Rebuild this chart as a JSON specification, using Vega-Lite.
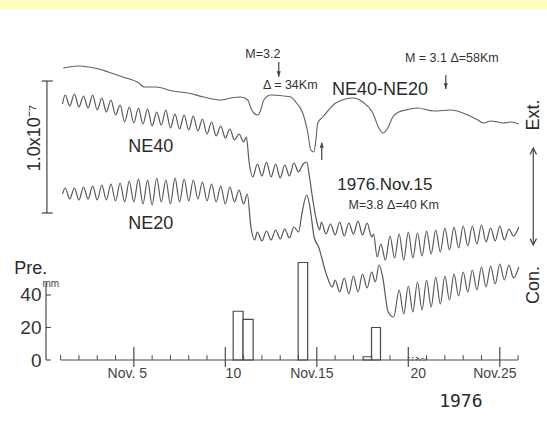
{
  "$schema": "https://vega.github.io/schema/vega-lite/v6.json",
  "width": 473,
  "height": 320,
  "autosize": "none",
  "padding": {"left": 46, "top": 40, "right": 28, "bottom": 61},
  "background": "white",
  "config": {"view": {"stroke": null}},
  "datasets": {
    "ne40": [[1.10,258],[1.25,267],[1.50,256],[1.75,268],[2.00,255],[2.25,266],[2.50,254],[2.75,267],[3.00,252],[3.25,264],[3.50,250],[3.75,262],[4.00,247],[4.25,257],[4.50,240],[4.75,255],[5.00,239],[5.25,254],[5.50,238],[5.75,253],[6.00,236],[6.25,250],[6.50,237],[6.75,252],[7.00,234],[7.25,248],[7.50,233],[7.75,247],[8.00,232],[8.25,246],[8.50,231],[8.75,243],[9.00,228],[9.25,240],[9.50,226],[9.75,236],[10.00,224],[10.25,233],[10.50,222],[10.75,228],[11.00,220],[11.15,225],[11.30,200],[11.50,185],[11.75,198],[12.00,186],[12.25,200],[12.50,185],[12.75,198],[13.00,184],[13.25,197],[13.50,186],[13.75,199],[14.00,190],[14.25,198],[14.45,200],[14.60,185],[14.80,160],[15.00,140],[15.15,132],[15.25,140],[15.50,128],[15.75,138],[16.00,127],[16.25,140],[16.50,126],[16.75,139],[17.00,128],[17.25,141],[17.50,127],[17.75,139],[18.00,125],[18.10,128],[18.30,105],[18.50,118],[18.75,102],[19.00,126],[19.25,104],[19.50,128],[19.75,102],[20.00,130],[20.25,104],[20.50,129],[20.75,106],[21.00,131],[21.25,108],[21.50,132],[21.75,110],[22.00,134],[22.25,112],[22.50,135],[22.75,114],[23.00,136],[23.25,116],[23.50,136],[23.75,118],[24.00,137],[24.25,120],[24.50,134],[24.75,121],[25.00,136],[25.25,122],[25.50,133],[25.75,126],[26.04,135]],
    "ne20": [[1.10,168],[1.25,174],[1.50,163],[1.75,174],[2.00,162],[2.25,175],[2.50,163],[2.75,176],[3.00,162],[3.25,177],[3.50,162],[3.75,178],[4.00,161],[4.25,179],[4.50,160],[4.75,181],[5.00,160],[5.25,183],[5.50,158],[5.75,182],[6.00,157],[6.25,184],[6.50,160],[6.75,182],[7.00,158],[7.25,184],[7.50,160],[7.75,183],[8.00,161],[8.25,182],[8.50,163],[8.75,180],[9.00,161],[9.25,178],[9.50,160],[9.75,176],[10.00,158],[10.25,175],[10.50,160],[10.75,172],[11.00,158],[11.20,168],[11.40,135],[11.60,122],[11.75,130],[12.00,121],[12.25,131],[12.50,122],[12.75,132],[13.00,123],[13.25,133],[13.50,124],[13.75,135],[14.00,130],[14.20,150],[14.45,167],[14.65,152],[14.85,125],[15.10,115],[15.50,89],[15.85,75],[16.00,82],[16.25,70],[16.50,84],[16.75,68],[17.00,86],[17.25,70],[17.50,88],[17.75,74],[18.00,90],[18.20,80],[18.40,97],[18.60,85],[18.90,50],[19.20,45],[19.50,72],[19.75,48],[20.00,76],[20.25,50],[20.50,80],[20.75,52],[21.00,82],[21.25,55],[21.50,85],[21.75,58],[22.00,86],[22.25,62],[22.50,88],[22.75,66],[23.00,90],[23.25,70],[23.50,92],[23.75,72],[24.00,95],[24.25,75],[24.50,96],[24.75,78],[25.00,98],[25.25,82],[25.50,97],[25.75,84],[26.04,95]],
    "diff": [[1.14,294],[1.45,295],[2.0,296],[2.54,295],[3.09,293],[3.6,290],[4.40,285],[5.27,279],[5.55,275],[6.20,275],[7.13,271],[7.95,269],[8.83,265],[9.75,262],[10.30,264],[10.85,265],[11.23,262],[11.39,254],[11.56,249],[11.78,247],[11.94,252],[12.10,262],[12.48,267],[13.20,266],[13.58,265],[13.85,260],[14.23,249],[14.51,229],[14.67,212],[14.84,210],[14.95,222],[15.05,239],[15.33,245],[16.04,259],[16.97,264],[17.51,260],[18.06,249],[18.39,234],[18.61,229],[18.88,234],[19.15,245],[19.48,250],[19.86,252],[20.52,254],[21.39,251],[22.32,252],[23.25,247],[23.80,242],[24.13,239],[24.5,241],[24.89,240],[25.22,239],[25.6,240],[26.04,238]],
    "precip": [
      {"start": 10.43, "end": 10.97, "mm": 30},
      {"start": 10.97, "end": 11.52, "mm": 25},
      {"start": 13.98, "end": 14.5, "mm": 60},
      {"start": 17.53, "end": 17.99, "mm": 2},
      {"start": 17.99, "end": 18.48, "mm": 20}
    ],
    "precipTrace": [
      {"start": 19.97, "end": 20.5, "mm": 1.5},
      {"start": 20.5, "end": 21.0, "mm": 1}
    ],
    "minorTicks": [{"d":1},{"d":2},{"d":3},{"d":4},{"d":6},{"d":7},{"d":8},{"d":9},{"d":11},{"d":12},{"d":13},{"d":14},{"d":16},{"d":17},{"d":18},{"d":19},{"d":21},{"d":22},{"d":23},{"d":24},{"d":26}],
    "majorTicks": [{"d":5},{"d":10},{"d":15},{"d":20},{"d":25}],
    "dayLabels": [
      {"d": 4.64, "h": -12, "t": "Nov. 5"},
      {"d": 10.44, "h": -12, "t": "10"},
      {"d": 14.73, "h": -12, "t": "Nov.15"},
      {"d": 20.55, "h": -12, "t": "20"},
      {"d": 24.73, "h": -12, "t": "Nov.25"}
    ],
    "bigLabels": [
      {"d": 5.93, "h": 215, "t": "NE40"},
      {"d": 5.93, "h": 138, "t": "NE20"},
      {"d": 18.45, "h": 272, "t": "NE40-NE20"},
      {"d": -0.63, "h": 93, "t": "Pre."}
    ],
    "smallLabels": [
      {"d": 12.05, "h": 308, "t": "M=3.2"},
      {"d": 13.55, "h": 277, "t": "Δ = 34Km"},
      {"d": 22.38, "h": 304, "t": "M = 3.1  Δ=58Km"},
      {"d": 19.2, "h": 157, "t": "M=3.8  Δ=40 Km"}
    ],
    "rotLabels": [
      {"d": -0.41, "h": 224, "t": "1.0x10⁻⁷"},
      {"d": 26.86, "h": 247, "t": "Ext."},
      {"d": 26.86, "h": 77, "t": "Con."}
    ]
  },
  "resolve": {"scale": {"y": "independent"}},
  "layer": [
    {
      "data": {"values": [{"x1": -2.4, "x2": 27.7, "h1": 353, "h2": 366}]},
      "mark": {"type": "rect", "color": "#FFFFC2", "clip": false},
      "encoding": {
        "x": {"field": "x1", "type": "quantitative", "scale": {"domain": [0.2, 26.05], "nice": false, "zero": false}, "axis": null},
        "x2": {"field": "x2"},
        "y": {"field": "h1", "type": "quantitative", "scale": {"domain": [2, 322], "nice": false, "zero": false}, "axis": null},
        "y2": {"field": "h2"}
      }
    },
    {
      "data": {"name": "ne40"},
      "transform": [{"calculate": "datum[0]", "as": "d"}, {"calculate": "datum[1]", "as": "h"}],
      "mark": {"type": "line", "color": "#585858", "strokeWidth": 1.2, "interpolate": "monotone"},
      "encoding": {
        "x": {"field": "d", "type": "quantitative", "scale": {"domain": [0.2, 26.05], "nice": false, "zero": false}, "axis": null},
        "y": {"field": "h", "type": "quantitative", "scale": {"domain": [2, 322], "nice": false, "zero": false}, "axis": null}
      }
    },
    {
      "data": {"name": "ne20"},
      "transform": [{"calculate": "datum[0]", "as": "d"}, {"calculate": "datum[1]", "as": "h"}],
      "mark": {"type": "line", "color": "#585858", "strokeWidth": 1.2, "interpolate": "monotone"},
      "encoding": {
        "x": {"field": "d", "type": "quantitative", "scale": {"domain": [0.2, 26.05], "nice": false, "zero": false}, "axis": null},
        "y": {"field": "h", "type": "quantitative", "scale": {"domain": [2, 322], "nice": false, "zero": false}, "axis": null}
      }
    },
    {
      "data": {"name": "diff"},
      "transform": [{"calculate": "datum[0]", "as": "d"}, {"calculate": "datum[1]", "as": "h"}],
      "mark": {"type": "line", "color": "#606060", "strokeWidth": 1.1, "interpolate": "monotone"},
      "encoding": {
        "x": {"field": "d", "type": "quantitative", "scale": {"domain": [0.2, 26.05], "nice": false, "zero": false}, "axis": null},
        "y": {"field": "h", "type": "quantitative", "scale": {"domain": [2, 322], "nice": false, "zero": false}, "axis": null}
      }
    },
    {
      "data": {"name": "precip"},
      "mark": {"type": "rect", "fill": "white", "stroke": "#4a4a4a", "strokeWidth": 1.2},
      "encoding": {
        "x": {"field": "start", "type": "quantitative", "scale": {"domain": [0.2, 26.05], "nice": false, "zero": false}, "axis": null},
        "x2": {"field": "end"},
        "y": {"field": "mm", "type": "quantitative", "scale": {"domain": [0, 196.9], "nice": false, "zero": false},
              "axis": {"values": [0, 20, 40], "title": null, "domain": false, "ticks": false, "grid": false, "labelPadding": 5, "labelFont": "Liberation Sans", "labelFontSize": 19, "labelColor": "#333", "labelFontWeight": "normal"}},
        "y2": {"datum": 0}
      }
    },
    {
      "data": {"name": "precipTrace"},
      "mark": {"type": "rect", "fill": "white", "stroke": "#555", "strokeWidth": 1, "strokeDash": [2, 2]},
      "encoding": {
        "x": {"field": "start", "type": "quantitative", "scale": {"domain": [0.2, 26.05], "nice": false, "zero": false}, "axis": null},
        "x2": {"field": "end"},
        "y": {"field": "mm", "type": "quantitative", "scale": {"domain": [0, 196.9], "nice": false, "zero": false}, "axis": null},
        "y2": {"datum": 0}
      }
    },
    {
      "data": {"values": [{"a": 1, "b": 26, "y": 0}]},
      "mark": {"type": "rule", "color": "#4a4a4a", "strokeWidth": 1.2},
      "encoding": {
        "x": {"field": "a", "type": "quantitative", "scale": {"domain": [0.2, 26.05], "nice": false, "zero": false}, "axis": null},
        "x2": {"field": "b"},
        "y": {"field": "y", "type": "quantitative", "scale": {"domain": [0, 196.9], "nice": false, "zero": false}, "axis": null}
      }
    },
    {
      "data": {"values": [{"x": 0.2, "y1": 0, "y2": 47.5}]},
      "mark": {"type": "rule", "color": "#4a4a4a", "strokeWidth": 1.2},
      "encoding": {
        "x": {"field": "x", "type": "quantitative", "scale": {"domain": [0.2, 26.05], "nice": false, "zero": false}, "axis": null},
        "y": {"field": "y1", "type": "quantitative", "scale": {"domain": [0, 196.9], "nice": false, "zero": false}, "axis": null},
        "y2": {"field": "y2"}
      }
    },
    {
      "data": {"values": [{"x1": 0.2, "x2": 0.47, "y": 0}, {"x1": 0.2, "x2": 0.47, "y": 20}, {"x1": 0.2, "x2": 0.47, "y": 40}]},
      "mark": {"type": "rule", "color": "#4a4a4a", "strokeWidth": 1.1},
      "encoding": {
        "x": {"field": "x1", "type": "quantitative", "scale": {"domain": [0.2, 26.05], "nice": false, "zero": false}, "axis": null},
        "x2": {"field": "x2"},
        "y": {"field": "y", "type": "quantitative", "scale": {"domain": [0, 196.9], "nice": false, "zero": false}, "axis": null}
      }
    },
    {
      "data": {"name": "minorTicks"},
      "mark": {"type": "rule", "color": "#4a4a4a", "strokeWidth": 1},
      "encoding": {
        "x": {"field": "d", "type": "quantitative", "scale": {"domain": [0.2, 26.05], "nice": false, "zero": false}, "axis": null},
        "y": {"datum": 0, "type": "quantitative", "scale": {"domain": [0, 196.9], "nice": false, "zero": false}, "axis": null},
        "y2": {"datum": 3}
      }
    },
    {
      "data": {"name": "majorTicks"},
      "mark": {"type": "rule", "color": "#4a4a4a", "strokeWidth": 1.2},
      "encoding": {
        "x": {"field": "d", "type": "quantitative", "scale": {"domain": [0.2, 26.05], "nice": false, "zero": false}, "axis": null},
        "y": {"datum": -4.3, "type": "quantitative", "scale": {"domain": [0, 196.9], "nice": false, "zero": false}, "axis": null},
        "y2": {"datum": 8}
      }
    },
    {
      "data": {"values": [
        {"x": 0.25, "y1": 149, "y2": 281},
        {"x": 12.92, "y1": 285, "y2": 300},
        {"x": 22.05, "y1": 273, "y2": 287},
        {"x": 15.27, "y1": 202, "y2": 219},
        {"x": 26.83, "y1": 117, "y2": 214}
      ]},
      "mark": {"type": "rule", "color": "#444", "strokeWidth": 1.2, "clip": false},
      "encoding": {
        "x": {"field": "x", "type": "quantitative", "scale": {"domain": [0.2, 26.05], "nice": false, "zero": false}, "axis": null},
        "y": {"field": "y1", "type": "quantitative", "scale": {"domain": [2, 322], "nice": false, "zero": false}, "axis": null},
        "y2": {"field": "y2"}
      }
    },
    {
      "data": {"values": [{"x1": -0.03, "x2": 0.57, "y": 281}, {"x1": -0.03, "x2": 0.57, "y": 149}]},
      "mark": {"type": "rule", "color": "#444", "strokeWidth": 1.2, "clip": false},
      "encoding": {
        "x": {"field": "x1", "type": "quantitative", "scale": {"domain": [0.2, 26.05], "nice": false, "zero": false}, "axis": null},
        "x2": {"field": "x2"},
        "y": {"field": "y", "type": "quantitative", "scale": {"domain": [2, 322], "nice": false, "zero": false}, "axis": null}
      }
    },
    {
      "data": {"values": [{"x": 12.92, "y": 285}, {"x": 22.05, "y": 273}]},
      "mark": {"type": "point", "shape": "M0,0L-0.6,-1.7L0.6,-1.7Z", "filled": true, "size": 45, "color": "#444", "opacity": 1},
      "encoding": {
        "x": {"field": "x", "type": "quantitative", "scale": {"domain": [0.2, 26.05], "nice": false, "zero": false}, "axis": null},
        "y": {"field": "y", "type": "quantitative", "scale": {"domain": [2, 322], "nice": false, "zero": false}, "axis": null}
      }
    },
    {
      "data": {"values": [{"x": 15.27, "y": 220}]},
      "mark": {"type": "point", "shape": "M0,0L-0.6,1.7L0.6,1.7Z", "filled": true, "size": 45, "color": "#444", "opacity": 1},
      "encoding": {
        "x": {"field": "x", "type": "quantitative", "scale": {"domain": [0.2, 26.05], "nice": false, "zero": false}, "axis": null},
        "y": {"field": "y", "type": "quantitative", "scale": {"domain": [2, 322], "nice": false, "zero": false}, "axis": null}
      }
    },
    {
      "data": {"values": [{"x": 26.83, "y": 214}]},
      "mark": {"type": "point", "shape": "M-0.9,1.8L0,0L0.9,1.8", "filled": false, "size": 50, "color": "#444", "strokeWidth": 1.2, "opacity": 1, "clip": false},
      "encoding": {
        "x": {"field": "x", "type": "quantitative", "scale": {"domain": [0.2, 26.05], "nice": false, "zero": false}, "axis": null},
        "y": {"field": "y", "type": "quantitative", "scale": {"domain": [2, 322], "nice": false, "zero": false}, "axis": null}
      }
    },
    {
      "data": {"values": [{"x": 26.83, "y": 117}]},
      "mark": {"type": "point", "shape": "M-0.9,-1.8L0,0L0.9,-1.8", "filled": false, "size": 50, "color": "#444", "strokeWidth": 1.2, "opacity": 1, "clip": false},
      "encoding": {
        "x": {"field": "x", "type": "quantitative", "scale": {"domain": [0.2, 26.05], "nice": false, "zero": false}, "axis": null},
        "y": {"field": "y", "type": "quantitative", "scale": {"domain": [2, 322], "nice": false, "zero": false}, "axis": null}
      }
    },
    {
      "data": {"name": "dayLabels"},
      "mark": {"type": "text", "font": "Liberation Sans", "fontSize": 14, "color": "#444", "align": "center", "baseline": "middle"},
      "encoding": {
        "x": {"field": "d", "type": "quantitative", "scale": {"domain": [0.2, 26.05], "nice": false, "zero": false}, "axis": null},
        "y": {"field": "h", "type": "quantitative", "scale": {"domain": [2, 322], "nice": false, "zero": false}, "axis": null},
        "text": {"field": "t"}
      }
    },
    {
      "data": {"name": "bigLabels"},
      "mark": {"type": "text", "font": "Liberation Sans", "fontSize": 18, "color": "#2a2a2a", "align": "center", "baseline": "middle"},
      "encoding": {
        "x": {"field": "d", "type": "quantitative", "scale": {"domain": [0.2, 26.05], "nice": false, "zero": false}, "axis": null},
        "y": {"field": "h", "type": "quantitative", "scale": {"domain": [2, 322], "nice": false, "zero": false}, "axis": null},
        "text": {"field": "t"}
      }
    },
    {
      "data": {"values": [{"d": 18.72, "h": 177, "t": "1976.Nov.15"}]},
      "mark": {"type": "text", "font": "Liberation Sans", "fontSize": 17, "color": "#2a2a2a", "align": "center", "baseline": "middle"},
      "encoding": {
        "x": {"field": "d", "type": "quantitative", "scale": {"domain": [0.2, 26.05], "nice": false, "zero": false}, "axis": null},
        "y": {"field": "h", "type": "quantitative", "scale": {"domain": [2, 322], "nice": false, "zero": false}, "axis": null},
        "text": {"field": "t"}
      }
    },
    {
      "data": {"name": "smallLabels"},
      "mark": {"type": "text", "font": "Liberation Sans", "fontSize": 12.5, "color": "#333", "align": "center", "baseline": "middle"},
      "encoding": {
        "x": {"field": "d", "type": "quantitative", "scale": {"domain": [0.2, 26.05], "nice": false, "zero": false}, "axis": null},
        "y": {"field": "h", "type": "quantitative", "scale": {"domain": [2, 322], "nice": false, "zero": false}, "axis": null},
        "text": {"field": "t"}
      }
    },
    {
      "data": {"name": "rotLabels"},
      "mark": {"type": "text", "font": "Liberation Sans", "fontSize": 18, "color": "#2a2a2a", "align": "center", "baseline": "middle", "angle": 270},
      "encoding": {
        "x": {"field": "d", "type": "quantitative", "scale": {"domain": [0.2, 26.05], "nice": false, "zero": false}, "axis": null},
        "y": {"field": "h", "type": "quantitative", "scale": {"domain": [2, 322], "nice": false, "zero": false}, "axis": null},
        "text": {"field": "t"}
      }
    },
    {
      "data": {"values": [{"d": 0.46, "h": 78, "t": "mm"}]},
      "mark": {"type": "text", "font": "Liberation Sans", "fontSize": 10, "color": "#444", "align": "center", "baseline": "middle"},
      "encoding": {
        "x": {"field": "d", "type": "quantitative", "scale": {"domain": [0.2, 26.05], "nice": false, "zero": false}, "axis": null},
        "y": {"field": "h", "type": "quantitative", "scale": {"domain": [2, 322], "nice": false, "zero": false}, "axis": null},
        "text": {"field": "t"}
      }
    },
    {
      "data": {"values": [{"d": 22.87, "h": -40, "t": "1976"}]},
      "mark": {"type": "text", "font": "DejaVu Sans Mono", "fontSize": 18, "color": "#2a2a2a", "align": "center", "baseline": "middle"},
      "encoding": {
        "x": {"field": "d", "type": "quantitative", "scale": {"domain": [0.2, 26.05], "nice": false, "zero": false}, "axis": null},
        "y": {"field": "h", "type": "quantitative", "scale": {"domain": [2, 322], "nice": false, "zero": false}, "axis": null},
        "text": {"field": "t"}
      }
    }
  ]
}
